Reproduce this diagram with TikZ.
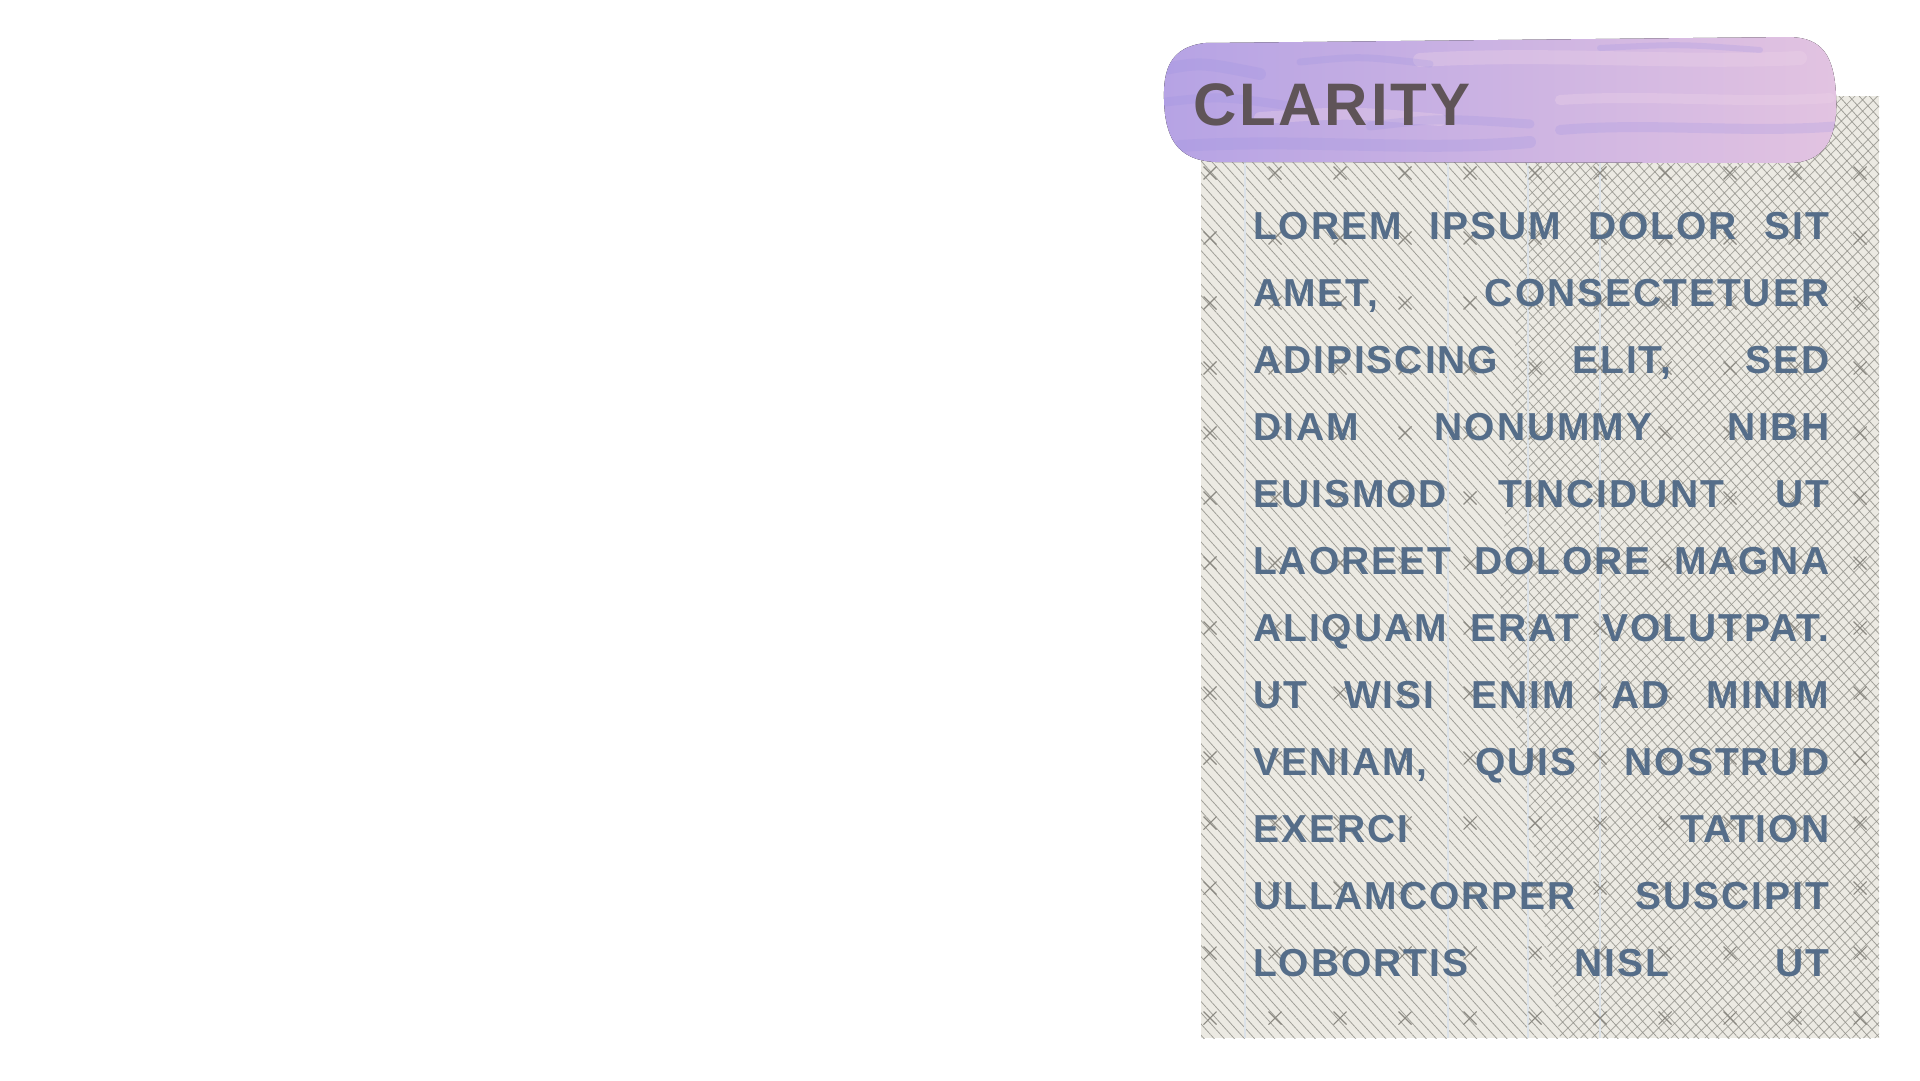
\documentclass[tikz,border=0pt]{standalone}
\usepackage{fontspec}
\usetikzlibrary{patterns.meta}

\newfontfamily\bodyfont[LetterSpace=5]{Liberation Sans}
\newfontfamily\titlefont[LetterSpace=4.7]{Liberation Sans}

\definecolor{paper}{HTML}{ECEAE3}
\definecolor{hatchgray}{HTML}{8E8D86}
\definecolor{xgray}{HTML}{8B8982}
\definecolor{seam}{HTML}{DCE2E8}
\definecolor{bodyblue}{HTML}{556D89}
\definecolor{titlegray}{HTML}{5F5458}
\definecolor{pillviolet}{HTML}{B6A3E4}
\definecolor{pillmid}{HTML}{CDB3E3}
\definecolor{pillpink}{HTML}{E2C3E1}
\definecolor{streak}{HTML}{9A90E2}
\definecolor{glow}{HTML}{EDD3E8}

\newcommand\pillpath{(1205,43) .. controls (1170,47) and (1163,70) .. (1164,100)
    .. controls (1165,135) and (1175,160) .. (1215,162) -- (1790,163)
    .. controls (1830,162) and (1838,130) .. (1836,95)
    .. controls (1834,55) and (1822,38) .. (1790,37) -- cycle}

\tikzset{
  xmark/.style={draw=xgray, line width=1.1pt},
  streakline/.style={draw=streak, line cap=round, opacity=.22},
  glowline/.style={draw=glow, line cap=round, opacity=.35},
}

\begin{document}
\begin{tikzpicture}[x=1pt, y=-1pt]
\useasboundingbox (0,0) rectangle (1920,1080);

% paper panel
\fill[paper] (1201,96) rectangle (1879,1038);
\begin{scope}
\clip (1201,96) rectangle (1879,1038);
\fill[pattern={Lines[angle=-48, distance=7.5pt, line width=0.8pt]},
      pattern color=hatchgray, opacity=.8] (1201,96) rectangle (1879,1038);
\fill[pattern={Lines[angle=45, distance=8pt, line width=0.8pt]},
      pattern color=hatchgray, opacity=.7]
      (1530,96) -- (1879,96) -- (1879,1038) -- (1560,1038) -- (1500,600) -- cycle;
\foreach \sx in {1245,1448,1528,1600}
  \draw[seam, line width=1.5pt] (\sx,96) -- (\sx,1038);
\foreach \mx in {1210,1275,...,1865}
  \foreach \my in {173,238,...,1025}
    \draw[xmark] (\mx,\my) +(-6.5,-6.5) -- +(6.5,6.5) +(-6.5,6.5) -- +(6.5,-6.5);
\end{scope}

% brush stroke
\fill[left color=pillviolet, middle color=pillmid, right color=pillpink] \pillpath;
\begin{scope}
\clip \pillpath;
\draw[glowline, line width=14pt] (1420,60) .. controls (1550,52) and (1680,64) .. (1800,58);
\draw[glowline, line width=12pt] (1260,118) .. controls (1350,112) .. (1440,120);
\draw[glowline, line width=10pt] (1560,100) .. controls (1650,94) and (1740,104) .. (1830,98);
\draw[streakline, line width=12pt] (1160,70) .. controls (1200,62) .. (1260,74);
\draw[streakline, line width=9pt] (1165,102) .. controls (1220,96) .. (1290,106);
\draw[streakline, line width=12pt] (1180,146) .. controls (1300,138) and (1420,152) .. (1530,142);
\draw[streakline, line width=9pt] (1370,126) .. controls (1440,118) .. (1530,124);
\draw[streakline, line width=7pt] (1300,62) .. controls (1360,56) .. (1430,64);
\draw[streakline, line width=10pt] (1560,130) .. controls (1650,122) and (1750,134) .. (1840,126);
\draw[streakline, line width=6pt] (1600,48) .. controls (1680,44) .. (1760,50);
\end{scope}

\node[anchor=base west, inner sep=0, text=titlegray,
      font=\titlefont\bfseries\fontsize{60}{72}\selectfont] (title) at (1193,125) {CLARITY};

\node[anchor=base west, inner sep=0, text width=576pt, align=justify, text=bodyblue,
      font=\bodyfont\bfseries\fontsize{39}{67}\selectfont] (body) at (1253,239)
  {\tolerance=10000 \hbadness=10000 \hyphenpenalty=10000
   LOREM IPSUM DOLOR SIT\linebreak
   AMET, CONSECTETUER\linebreak
   ADIPISCING ELIT, SED\linebreak
   DIAM NONUMMY NIBH\linebreak
   EUISMOD TINCIDUNT UT\linebreak
   LAOREET DOLORE MAGNA\linebreak
   ALIQUAM ERAT VOLUTPAT.\linebreak
   UT WISI ENIM AD MINIM\linebreak
   VENIAM, QUIS NOSTRUD\linebreak
   EXERCI TATION\linebreak
   ULLAMCORPER SUSCIPIT\linebreak
   LOBORTIS NISL UT\parfillskip=0pt\par};
\end{tikzpicture}
\end{document}
